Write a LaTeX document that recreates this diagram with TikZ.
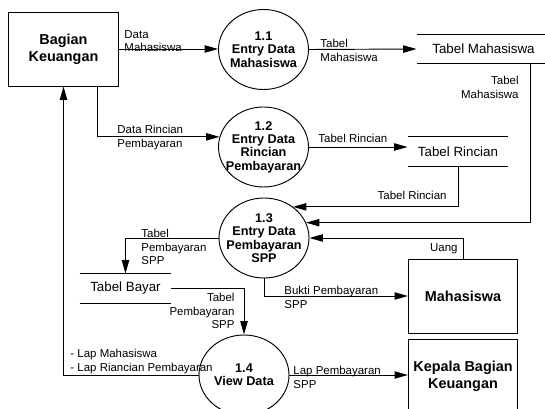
\documentclass[tikz,border=0pt]{standalone}
\usepackage{fontspec}
\setmainfont{Liberation Sans}
\usetikzlibrary{shapes.geometric,arrows.meta,calc}
\tikzset{
  ent/.style={draw, minimum width=82pt, minimum height=55.5pt, align=center,
    font=\fontsize{10.8}{12.5}\selectfont\bfseries},
  proc/.style={draw, ellipse, minimum width=67.5pt, minimum height=60pt, inner sep=0pt},
  ptxt/.style={align=center, inner sep=0pt, font=\fontsize{9.5}{10}\selectfont\bfseries},
  store/.style={minimum height=21.75pt, inner sep=0pt, font=\fontsize{10}{12}\selectfont},
  lbl/.style={inner sep=0pt, align=left, font=\fontsize{8.6}{10.1}\selectfont},
  flow/.style={-{Triangle[length=10pt,width=5.5pt]}}
}
\begin{document}
\begin{tikzpicture}[x=0.75pt, y=-0.75pt, line width=0.7pt]
  \useasboundingbox (0,0) rectangle (545,409);
  \node[ent] (bk) at (63.5,49) {Bagian\\Keuangan};
  \node[ent] (mh) at (463,296) {Mahasiswa};
  \node[ent] (kp) at (463,376) {Kepala Bagian\\Keuangan};
  \node[proc, label={[ptxt]center:{1.1\\Entry Data\\Mahasiswa}}] (p11) at (263.5,49.5) {};
  \node[proc, label={[ptxt]center:{1.2\\Entry Data\\Rincian\\Pembayaran}}] (p12) at (263.5,147) {};
  \node[proc, label={[ptxt]center:{1.3\\Entry Data\\Pembayaran\\SPP}}] (p13) at (264,238) {};
  \node[proc, label={[ptxt]center:{1.4\\View Data}}] (p14) at (244,375) {};
  \node[store, minimum width=99.75pt] (tm) at (483.5,49) {Tabel Mahasiswa};
  \node[store, minimum width=75pt] (tr) at (458,151.5) {Tabel Rincian};
  \node[store, minimum width=68.25pt] (tb) at (125.5,288.5) {Tabel Bayar};
  \foreach \s in {tm,tr,tb}
    \draw (\s.north west) -- (\s.north east) (\s.south west) -- (\s.south east);

  \draw[flow] (bk.east) -- (bk.east -| p11.west);
  \draw[flow] ($(bk.south)+(33.5,0)$) |- (p12.167);
  \draw[flow] (p11.east) -- (tm.west);
  \draw[flow] (p12.east) -- (p12.east -| tr.west);
  \draw[flow] ($(tm.south)+(46.5,0)$) |- (p13.20);
  \draw[flow] (tr.south) |- (p13.47);
  \draw[flow] (mh.north) |- (p13.east);
  \draw[flow] (p13.south) |- (mh.west);
  \draw[flow] (p13.west) -| (tb.north);
  \draw[flow] (tb.east) -| (p14.north);
  \draw[flow] (p14.west) -| (bk.south);
  \draw[flow] (p14.east) -- (p14.east -| kp.west);

  \node[lbl, anchor=north west] (l1) at (124,30) {Data\\Mahasiswa};
  \node[lbl, anchor=north west] (l2) at (117,125) {Data Rincian\\Pembayaran};
  \node[lbl, anchor=north west] (l3) at (320,39) {Tabel\\Mahasiswa};
  \node[lbl, anchor=north west] (l4) at (318,134) {Tabel Rincian};
  \node[lbl, anchor=north east, align=right] (l5) at (519,76) {Tabel\\Mahasiswa};
  \node[lbl, anchor=north east] (l6) at (447,191) {Tabel Rincian};
  \node[lbl, anchor=north east] (l7) at (458,243) {Uang};
  \node[lbl, anchor=north west] (l8) at (284,286) {Bukti Pembayaran\\SPP};
  \node[lbl, anchor=north west] (l9) at (141,229) {Tabel\\Pembayaran\\SPP};
  \node[lbl, anchor=north east, align=right] (l10) at (235,293) {Tabel\\Pembayaran\\SPP};
  \node[lbl, anchor=north west] (l11) at (70,349) {- Lap Mahasiswa\\- Lap Riancian Pembayaran};
  \node[lbl, anchor=north west] (l12) at (293,366) {Lap Pembayaran\\SPP};
\end{tikzpicture}
\end{document}
